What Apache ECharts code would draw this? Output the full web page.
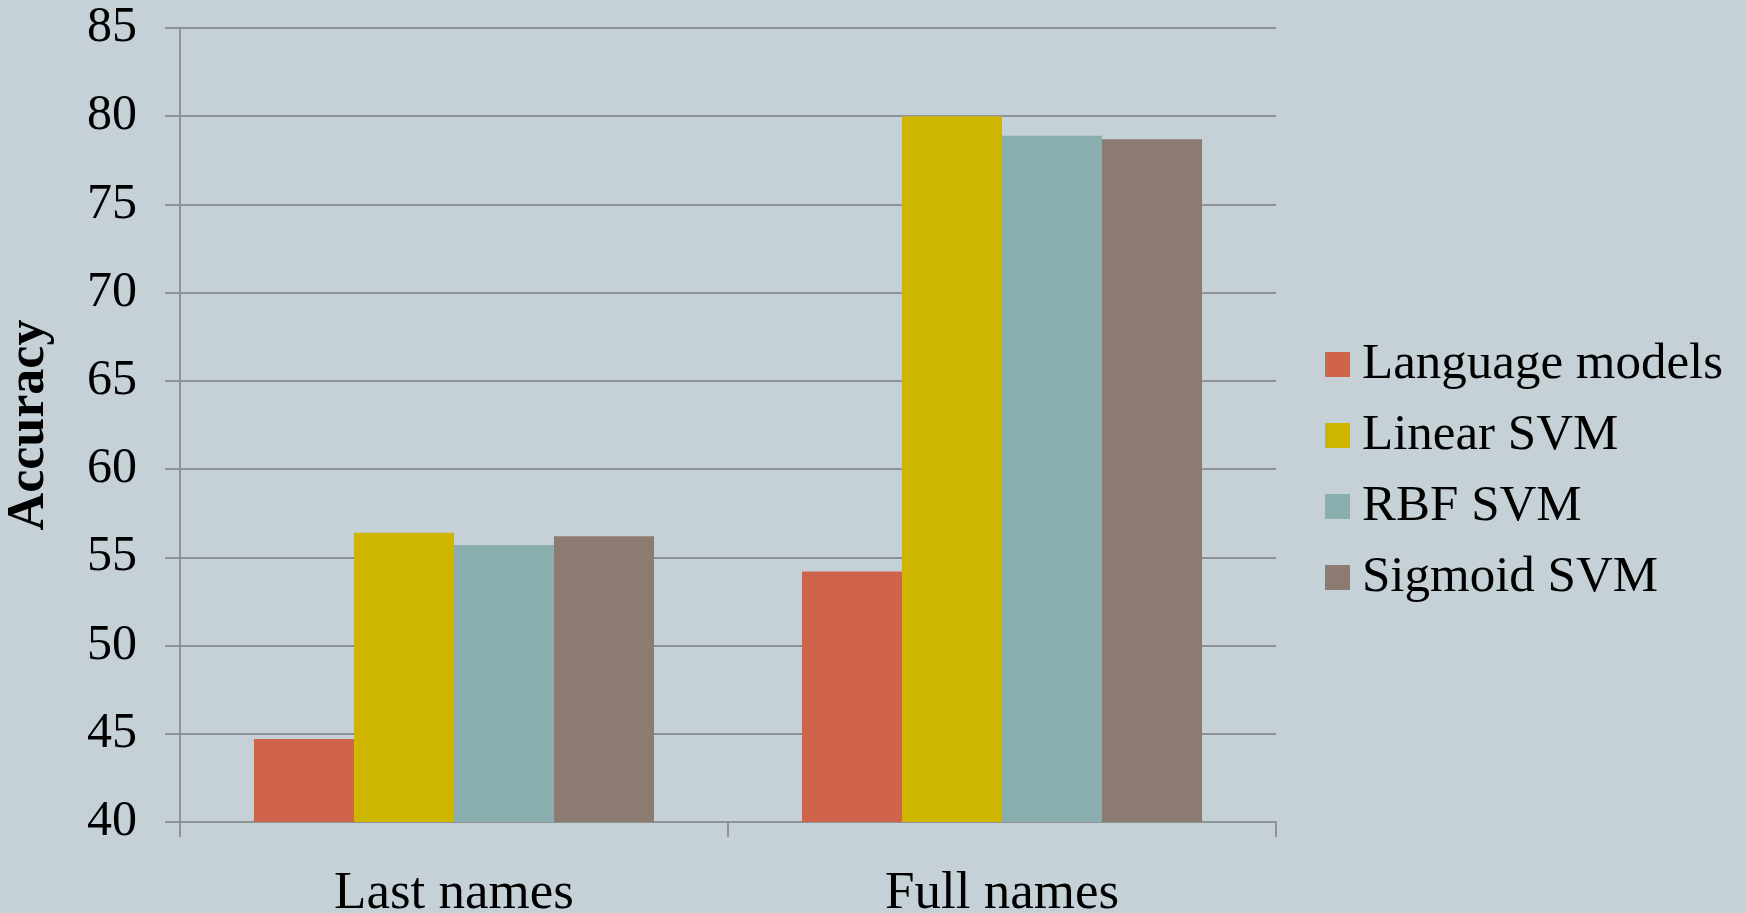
<!DOCTYPE html>
<html>
<head>
<meta charset="utf-8">
<script src="https://cdn.jsdelivr.net/npm/echarts@6/dist/echarts.min.js"></script>
<style>
  html, body { margin: 0; padding: 0; background: #c5d1d7; }
  #chart { width: 1746px; height: 913px; }
</style>
</head>
<body>
<div id="chart"></div>
<script>
// 数据
const categories = ['Last names', 'Full names'];
const seriesNames = ['Language models', 'Linear SVM', 'RBF SVM', 'Sigmoid SVM'];
const languageModels = [44.7, 54.2];
const linearSvm = [56.4, 80.0];
const rbfSvm = [55.7, 78.9];
const sigmoidSvm = [56.2, 78.7];
const colors = ['#d0644a', '#cdb500', '#8aadae', '#8c7b70'];

const serif = '"Liberation Serif", "DejaVu Serif", serif';
const gridColor = '#8e9294';

const chart = echarts.init(document.getElementById('chart'));

const option = {
  backgroundColor: '#c5d1d7',
  textStyle: { fontFamily: serif, color: '#000' },
  grid: { left: 180, right: 470, top: 28, bottom: 91, outerBoundsMode: 'none' },
  legend: {
    orient: 'vertical',
    left: 1320,
    top: 334,
    icon: 'rect',
    itemWidth: 25,
    itemHeight: 25,
    itemGap: 20,
    data: seriesNames,
    textStyle: { fontFamily: serif, fontSize: 51, color: '#000', padding: [0, 0, 0, 7] }
  },
  xAxis: {
    type: 'category',
    data: categories,
    axisLine: { show: true, lineStyle: { color: gridColor, width: 2 } },
    axisTick: { show: true, length: 15, lineStyle: { color: gridColor, width: 2 } },
    axisLabel: { fontFamily: serif, fontSize: 53, color: '#000', margin: 46 }
  },
  yAxis: {
    type: 'value',
    min: 40,
    max: 85,
    interval: 5,
    name: 'Accuracy',
    nameLocation: 'middle',
    nameRotate: 90,
    nameGap: 124,
    nameTextStyle: { fontFamily: serif, fontSize: 52, fontWeight: 'bold', color: '#000' },
    axisLine: { show: true, lineStyle: { color: gridColor, width: 2 } },
    axisTick: { show: true, length: 15, lineStyle: { color: gridColor, width: 2 } },
    axisLabel: { fontFamily: serif, fontSize: 50, color: '#000', margin: 43 },
    splitLine: { show: true, lineStyle: { color: gridColor, width: 2 } }
  },
  series: [
    { name: seriesNames[0], type: 'bar', data: languageModels, barGap: '0%', barCategoryGap: '27%', itemStyle: { color: colors[0] } },
    { name: seriesNames[1], type: 'bar', data: linearSvm, itemStyle: { color: colors[1] } },
    { name: seriesNames[2], type: 'bar', data: rbfSvm, itemStyle: { color: colors[2] } },
    { name: seriesNames[3], type: 'bar', data: sigmoidSvm, itemStyle: { color: colors[3] } }
  ]
};

chart.setOption(option);
window.addEventListener('resize', () => chart.resize());
</script>
</body>
</html>
